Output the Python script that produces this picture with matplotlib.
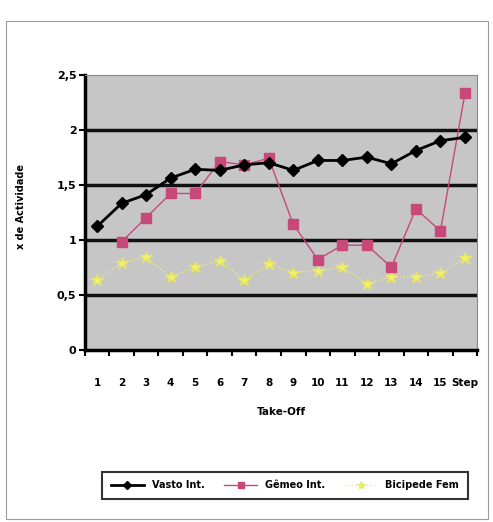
import matplotlib
matplotlib.use("Agg")

import numpy as np
from matplotlib import pyplot as plt
from matplotlib.patches import Rectangle

# activity per take-off step
categories = ["1", "2", "3", "4", "5", "6", "7", "8", "9", "10",
              "11", "12", "13", "14", "15", "Step"]
vasto = [1.12, 1.33, 1.41, 1.56, 1.64, 1.63, 1.68, 1.70,
         1.63, 1.72, 1.72, 1.75, 1.69, 1.81, 1.90, 1.93]
gemeo = [np.nan, 0.98, 1.20, 1.42, 1.42, 1.71, 1.68, 1.74,
         1.14, 0.82, 0.95, 0.95, 0.75, 1.28, 1.08, 2.33]
bicipede = [0.63, 0.79, 0.84, 0.66, 0.75, 0.81, 0.63, 0.78,
            0.70, 0.72, 0.75, 0.60, 0.66, 0.66, 0.70, 0.83]
series_names = ["Vasto Int.", "Gêmeo Int.", "Bicipede Fem"]
yticks = [0, 0.5, 1, 1.5, 2, 2.5]
yticklabels = ["0", "0,5", "1", "1,5", "2", "2,5"]

fig = plt.figure(figsize=(4.93, 5.22), dpi=100)

# thin outer frame of the chart object
fig.patches.append(Rectangle((0.012, 0.005), 0.978, 0.955, transform=fig.transFigure,
                             fill=False, edgecolor="#9a9a9a", linewidth=0.8))

ax = fig.add_axes([0.172, 0.33, 0.796, 0.527])
ax.set_facecolor("#c6c6c6")

x = np.arange(len(categories))
ax.plot(x, vasto, color="black", linewidth=2.0, marker="D", markersize=6.5,
        markerfacecolor="black", label=series_names[0], zorder=5)
ax.plot(x, gemeo, color="#c8487a", linewidth=1.0, marker="s", markersize=7.5,
        markerfacecolor="#c8487a", markeredgecolor="#c8487a",
        label=series_names[1], zorder=4)
ax.plot(x, bicipede, color="#eeee77", linewidth=1.0, linestyle=":", marker="*",
        markersize=9, markerfacecolor="#f2f270", markeredgecolor="#e8e860",
        label=series_names[2], zorder=3)

ax.set_xlim(-0.5, len(categories) - 0.5)
ax.set_ylim(0, 2.5)
ax.set_yticks(yticks)
ax.set_yticklabels(yticklabels, fontsize=8, fontweight="bold")
for y in yticks[1:-1]:
    ax.axhline(y, color="#111111", linewidth=2.5, zorder=1)

# category labels centred, tick marks between categories
ax.set_xticks(x)
ax.set_xticklabels(categories, fontsize=7.5, fontweight="bold")
ax.tick_params(axis="x", length=0, pad=20)
ax.set_xticks(np.arange(-0.5, len(categories)), minor=True)
ax.tick_params(axis="x", which="minor", length=4, width=1.5, direction="out")
ax.tick_params(axis="y", length=4, width=1.5, direction="out", pad=2)

ax.spines["left"].set_linewidth(2.5)
ax.spines["bottom"].set_linewidth(2.5)
ax.spines["top"].set_color("#888888")
ax.spines["right"].set_color("#888888")
ax.spines["top"].set_linewidth(0.8)
ax.spines["right"].set_linewidth(0.8)

ax.set_xlabel("Take-Off", fontsize=7.5, fontweight="bold", labelpad=14)
fig.text(0.042, 0.605, "x de Actividade", rotation=90, fontsize=7,
         fontweight="bold", ha="center", va="center")

leg = fig.legend(loc="center", bbox_to_anchor=(0.578, 0.07), ncol=3,
                 frameon=True, fancybox=False, edgecolor="black",
                 handlelength=3.4, columnspacing=2.0, borderpad=0.9,
                 markerscale=0.6, prop={"weight": "bold", "size": 7})
leg.get_frame().set_linewidth(1.5)

fig.savefig("out.png", dpi=100)
